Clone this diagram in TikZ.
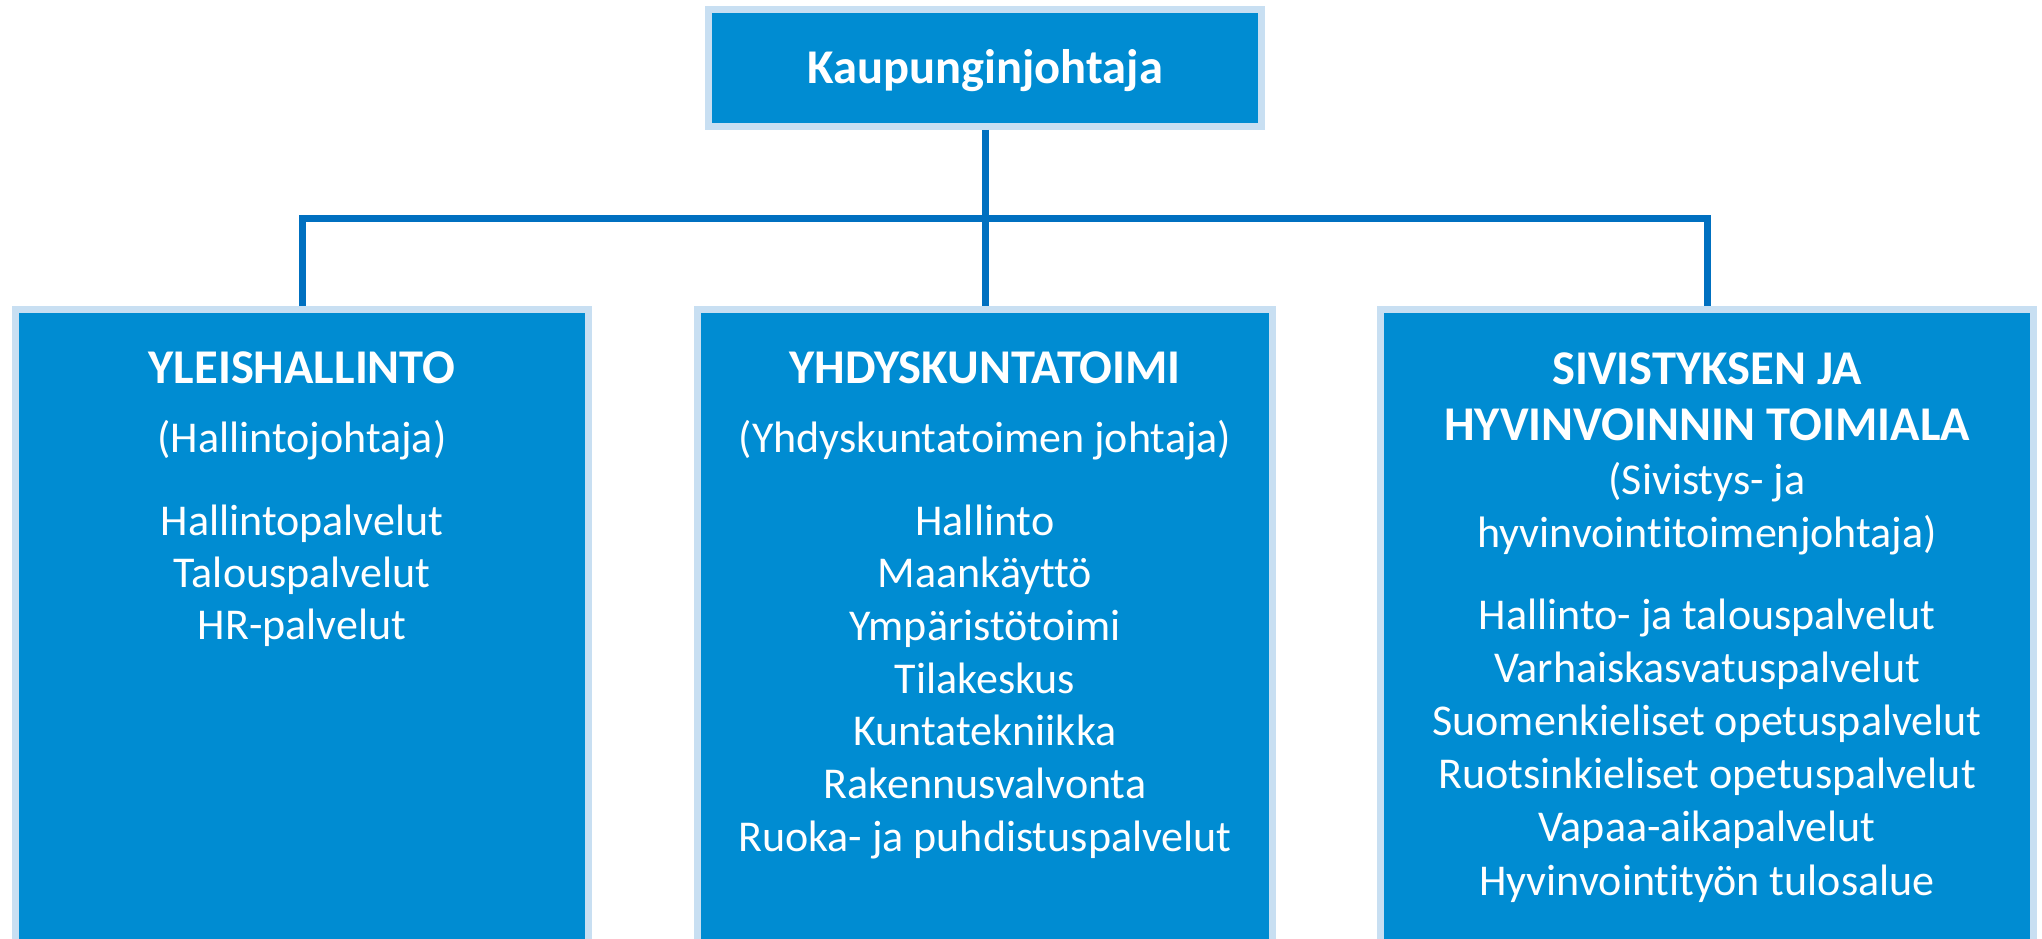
\documentclass[tikz,border=0pt]{standalone}
\usepackage{fontspec}
\setmainfont{Carlito}[Ligatures={NoCommon}]
\definecolor{boxfill}{RGB}{0,140,210}
\definecolor{boxedge}{RGB}{200,223,242}
\definecolor{linecol}{RGB}{0,112,192}
\begin{document}
\begin{tikzpicture}[x=1pt,y=-1pt,
 box/.style={draw=boxedge,line width=7pt,fill=boxfill,inner sep=0pt},
 conn/.style={draw=linecol,line width=7pt,line join=miter},
 hd/.style={text=white,anchor=base,inner sep=0pt,font=\fontsize{48.5}{58}\selectfont\bfseries},
 tx/.style={text=white,anchor=base,inner sep=0pt,font=\fontsize{44}{52}\selectfont}]
\useasboundingbox (0,0) rectangle (2042,939);
% boxes
\node[box,minimum width=553pt,minimum height=117pt] (top) at (985,68) {};
\node[box,minimum width=573pt,minimum height=671pt] (left) at (302,645) {};
\node[box,minimum width=575pt,minimum height=671pt] (mid) at (985,645) {};
\node[box,minimum width=653pt,minimum height=671pt] (right) at (1707,645) {};
% connectors
\coordinate (bus) at (985,218.5);
\draw[conn] (top.south) -- (mid.north);
\draw[conn] (left.north) |- (bus) -| (right.north);
% texts
\node[hd] (topt) at (985,84) {Kaupunginjohtaja};
\node[hd] (l0) at (302,383) {YLEISHALLINTO};
\node[tx] (l1) at (302,452) {(Hallintojohtaja)};
\node[tx] (l2) at (302,535) {Hallintopalvelut};
\node[tx] (l3) at (302,587) {Talouspalvelut};
\node[tx] (l4) at (302,639) {HR-palvelut};
\node[hd] (m0) at (985,383) {YHDYSKUNTATOIMI};
\node[tx] (m1) at (985,452) {(Yhdyskuntatoimen johtaja)};
\node[tx] (m2) at (985,535) {Hallinto};
\node[tx] (m3) at (985,587.7) {Maankäyttö};
\node[tx] (m4) at (985,640.4) {Ympäristötoimi};
\node[tx] (m5) at (985,693.1) {Tilakeskus};
\node[tx] (m6) at (985,745.8) {Kuntatekniikka};
\node[tx] (m7) at (985,798.5) {Rakennusvalvonta};
\node[tx] (m8) at (985,851.2) {Ruoka- ja puhdistuspalvelut};
\node[hd] (r0) at (1707,384) {SIVISTYKSEN JA};
\node[hd] (r1) at (1707,440) {HYVINVOINNIN TOIMIALA};
\node[tx] (r2) at (1707,494) {(Sivistys- ja};
\node[tx] (r3) at (1707,547) {hyvinvointitoimenjohtaja)};
\node[tx] (r4) at (1707,629) {Hallinto- ja talouspalvelut};
\node[tx] (r5) at (1707,682.2) {Varhaiskasvatuspalvelut};
\node[tx] (r6) at (1707,735.4) {Suomenkieliset opetuspalvelut};
\node[tx] (r7) at (1707,788.6) {Ruotsinkieliset opetuspalvelut};
\node[tx] (r8) at (1707,841.8) {Vapaa-aikapalvelut};
\node[tx] (r9) at (1707,895) {Hyvinvointityön tulosalue};
\end{tikzpicture}
\end{document}
